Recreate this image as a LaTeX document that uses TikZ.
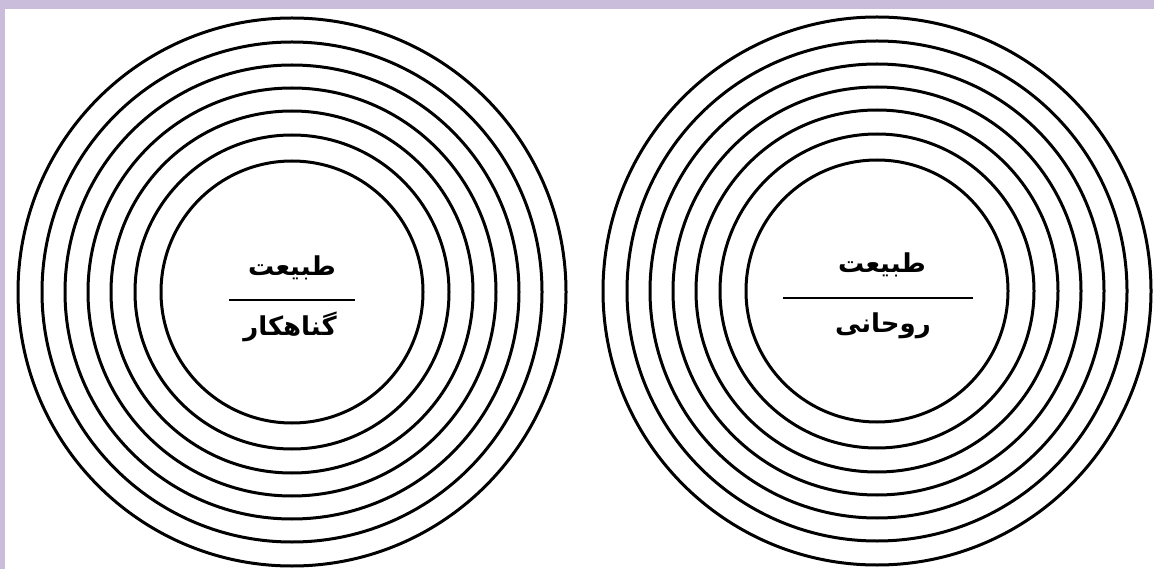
\documentclass[tikz,border=0pt]{standalone}
\usepackage{fontspec}
\newfontfamily\arabicfont[Script=Arabic]{DejaVu Sans}
\TeXXeTstate=1
\usepackage{tikz}

\definecolor{frame}{RGB}{201,189,219}

\begin{document}
\begin{tikzpicture}[x=1pt, y=-1pt, line width=3pt,
  word/.style={font=\arabicfont\bfseries\fontsize{26}{30}\selectfont, inner sep=0pt}]

% page: lavender frame, white sheet
\fill[frame] (0,0) rectangle (1154,569);
\fill[white] (5,9) rectangle (1154,569);
\useasboundingbox (0,0) rectangle (1154,569);

% two sets of rings
\coordinate (lc) at (292,292);
\coordinate (rc) at (877,291);
\foreach \r in {131,157,181,204,227,250,274} {
  \draw (lc) circle[radius=\r pt];
  \draw (rc) circle[radius=\r pt];
}

% left centre: word over word
\node[word] (lnat) at (292,268) {\beginR طبیعت\endR};
\node[word] (lsin) at (290,327) {\beginR گناهکار\endR};
\coordinate (la) at (229,300);
\coordinate (lb) at (355,300);
\draw[line width=1.2pt] (la) -- (lb);

% right centre
\node[word] (rnat) at (882,265) {\beginR طبیعت\endR};
\node[word] (rspi) at (883,326) {\beginR روحانی\endR};
\coordinate (ra) at (783,298);
\coordinate (rb) at (973,298);
\draw[line width=1.2pt] (ra) -- (rb);

\end{tikzpicture}
\end{document}
